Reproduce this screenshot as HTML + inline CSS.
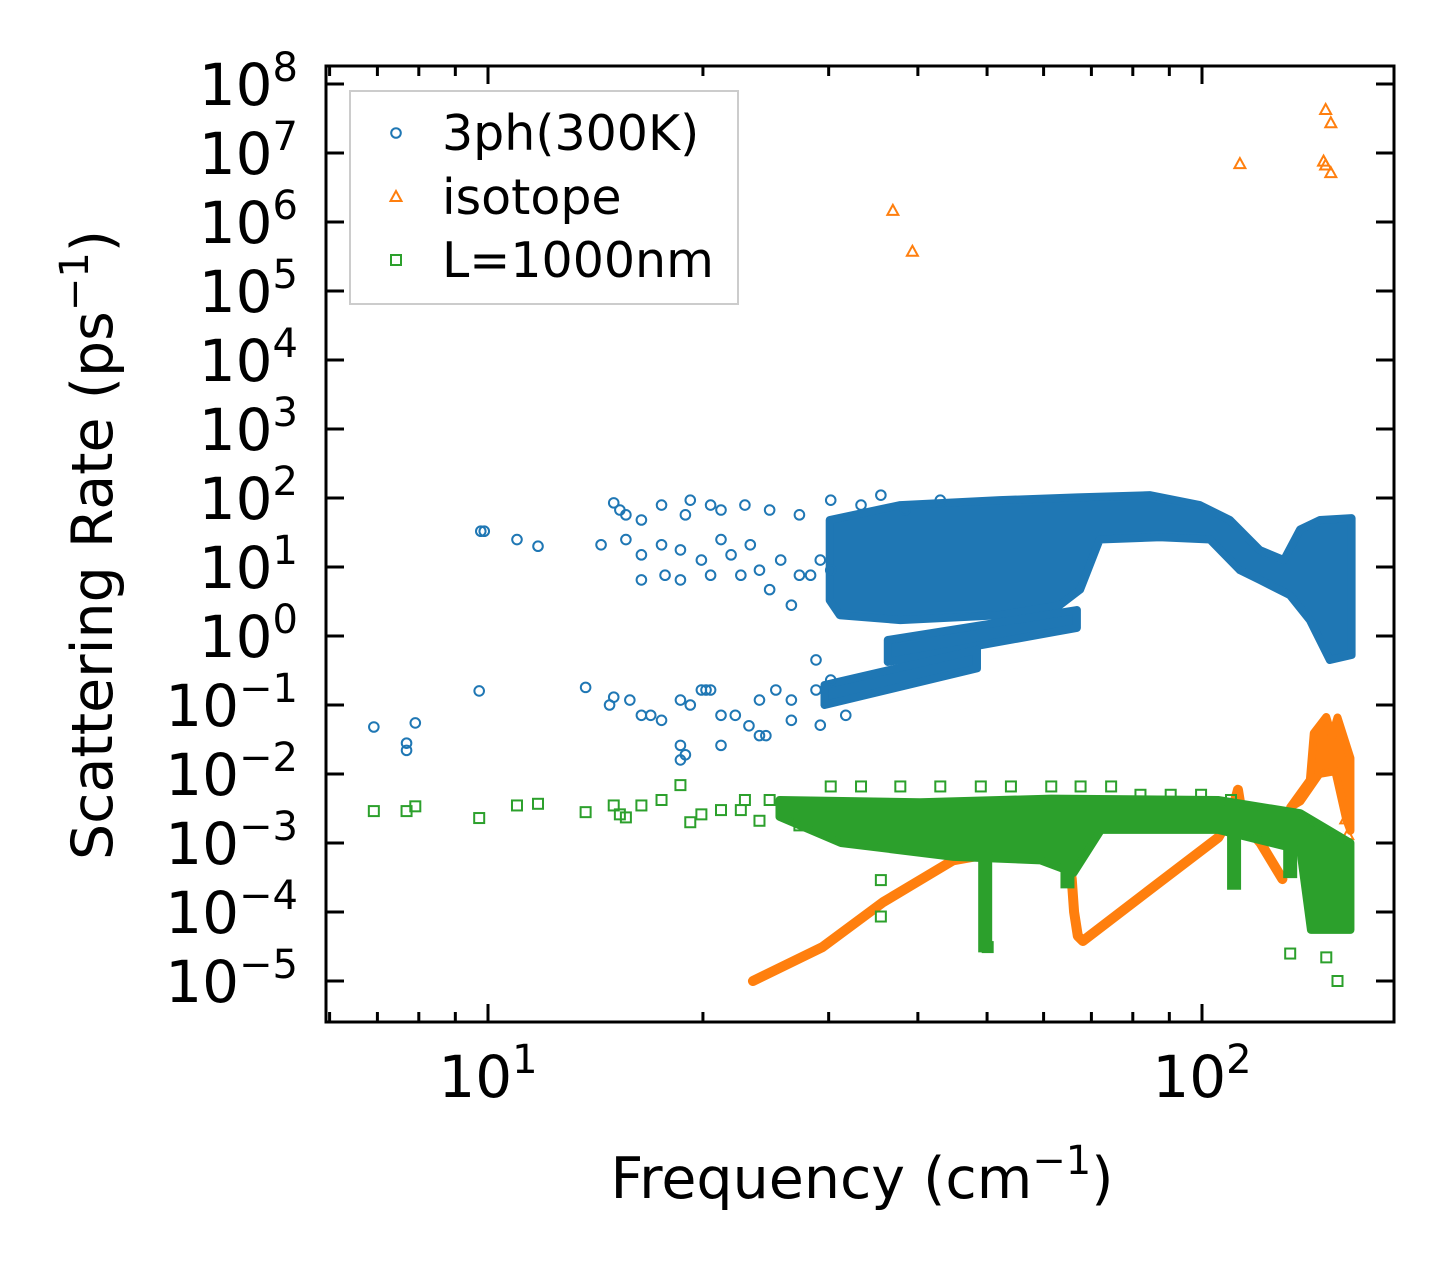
<!DOCTYPE html>
<html><head><meta charset="utf-8"><style>
html,body{margin:0;padding:0;background:#fff}
svg text{font-family:"DejaVu Sans","Liberation Sans",sans-serif;fill:#000}
</style></head><body>
<svg id="chart" width="1455" height="1272" viewBox="0 0 1455 1272" xmlns="http://www.w3.org/2000/svg" style="position:absolute;left:0;top:0">
<rect width="1455" height="1272" fill="#fff"/>
<g id="marks"></g>
<g id="axes"></g>
</svg>
<script>
// ---- data ----
const xTickValues = [10, 100];
const xTickExp = ["1", "2"];
const xMinorValues = [6,7,8,9,20,30,40,50,60,70,80,90];
const yTickExp = [-5,-4,-3,-2,-1,0,1,2,3,4,5,6,7,8];

// blue (3ph 300K) sparse points
const blueFreq = [6.92,7.69,7.69,7.91,9.72,9.77,9.88,10.98,11.75,13.7,15.0,15.0,
 15.3,15.6,16.4,17.5,18.9,19.2,20.5,21.2,22.9,24.8,27.3,30.2,33.3,35.5,38.4,43.0,
 14.4,15.6,16.4,17.5,18.6,19.9,21.2,21.9,23.3,24.0,25.7,27.3,29.2,16.4,17.7,18.6,20.5,22.6,24.8,26.6,28.3,30.2,
 14.8,15.8,16.9,18.6,19.2,20.5,21.2,22.2,24.0,25.3,26.6,28.8,30.2,16.4,17.5,18.6,19.9,21.2,24.0,26.6,28.8,31.7,29.2,18.9,20.2,23.2,24.5,18.6];
const blueRate = [0.048,0.028,0.022,0.055,0.16,33,33,25,20,0.18,85,0.13,
 67,57,48,79,57,93,79,67,79,67,57,93,79,110,67,93,
 21,25,15,21,17.7,12.6,25,15,21,9.0,12.6,7.6,12.6,6.5,7.6,6.5,7.6,7.6,4.7,2.8,7.6,9.0,
 0.10,0.118,0.071,0.118,0.10,0.165,0.071,0.071,0.118,0.165,0.118,0.165,0.23,0.071,0.06,0.026,0.165,0.026,0.036,0.06,0.45,0.071,0.051,0.019,0.165,0.05,0.036,0.016];
// blue dense envelopes
const blueAFreq = [30.1,37.8,52.1,66.8,84.6,99.3,109.4,120.5,130.2,137.2,146.3,162,162,151,141.6,132.8,120.5,113,102.6,87.3,71.9,67.5,63.2,52.1,37.8,31.1,30.1];
const blueARate = [48,79,93,102,110,79,48,17.6,12.6,35,48,51,0.53,0.45,1.7,3.9,6.5,9.0,25,27,25,4.7,2.8,2.0,1.7,2.0,3.3];
const blueB1Freq = [36.3,66.8,66.8,36.3];
const blueB1Rate = [0.875,2.38,1.31,0.42];
const blueB2Freq = [29.6,48.4,48.4,29.6];
const blueB2Rate = [0.195,0.63,0.34,0.10];

// orange (isotope)
const orangeSparseFreq = [36.9,39.3,113,149,151.5,148,149,151.5,159,160];
const orangeSparseRate = [1.45e6,3.7e5,6.9e6,4.2e7,2.7e7,7.5e6,6.6e6,5.1e6,2.2e-3,1.3e-3];
const orange1Freq = [23.5,29.4,35.8,44.8,50.5,57.1,64.8,65.7,66.2,67,68.1,84.5,105.4,109.8,112.3,114.2,120.8,129.6];
const orange1Rate = [1e-5,3.1e-5,1.4e-4,5.6e-4,7e-4,7.5e-4,7.5e-4,3e-4,1e-4,4.5e-5,3.8e-5,2.1e-4,1.2e-3,2.5e-3,5.9e-3,2e-3,1e-3,3e-4];
const orange2Freq = [132.9,141.6,143.4,149.3,152.1,154.8,161.4,161.4,159.2,153.7,146,137.3];
const orange2Rate = [3.3e-3,8.2e-3,0.039,0.067,0.035,0.066,0.017,1.5e-3,2.2e-3,0.011,0.01,4e-3];

// green (L=1000nm)
const greenFreq = [6.92,7.69,7.91,9.72,10.98,11.75,13.7,15.0,15.3,15.6,16.4,17.5,18.6,19.2,19.9,21.2,22.6,22.9,24.0,24.8,27.3,
 30.2,33.3,37.8,43.0,49.0,54.0,61.5,67.6,74.6,82.0,90.4,99.7,109.8,35.5,35.5,50.1,132.9,149.3,154.8];
const greenRate = [2.9e-3,2.9e-3,3.4e-3,2.3e-3,3.5e-3,3.7e-3,2.8e-3,3.5e-3,2.6e-3,2.35e-3,3.5e-3,4.2e-3,6.9e-3,2.0e-3,2.6e-3,3.0e-3,3.0e-3,4.2e-3,2.1e-3,4.2e-3,1.8e-3,
 6.6e-3,6.6e-3,6.6e-3,6.6e-3,6.6e-3,6.6e-3,6.6e-3,6.6e-3,6.6e-3,5.0e-3,5.0e-3,5.0e-3,4.2e-3,2.9e-4,8.6e-5,3.1e-5,2.5e-5,2.2e-5,1e-5];
const greenBandFreq = [25.6,40.3,61.5,105.3,137.3,161.4,161.4,142.1,137.3,105.3,72.2,66.1,59.4,44.9,31.2,25.6];
const greenBandRate = [4.2e-3,3.9e-3,4.4e-3,4.2e-3,2.7e-3,1.0e-3,5.5e-5,5.5e-5,7.9e-4,1.55e-3,1.55e-3,3.7e-4,5.6e-4,6.3e-4,1.0e-3,2.4e-3];
const greenDipFreq = [49.7,64.8,110.9,132.9];
const greenDipBottom = [2.6e-5,2.2e-4,2.1e-4,3.1e-4];
const greenDipTop = [1e-3,1.5e-3,2e-3,1.5e-3];

// ---- scales ----
const NS="http://www.w3.org/2000/svg";
function xs(f){return 488+714*(Math.log10(f)-1);}
function ys(r){return 84+69*(8-Math.log10(r));}
const C={b:"#1f77b4",o:"#ff7f0e",g:"#2ca02c"};
const marks=document.getElementById('marks');
const axes=document.getElementById('axes');
function mk(tag,attrs,parent){const e=document.createElementNS(NS,tag);for(const k in attrs)e.setAttribute(k,attrs[k]);(parent||marks).appendChild(e);return e;}
function circle(x,y,c){return mk('circle',{cx:x,cy:y,r:4.8,fill:'none',stroke:c,'stroke-width':2});}
function tri(x,y,c){return mk('polygon',{points:`${x},${y-6} ${x+5.5},${y+4} ${x-5.5},${y+4}`,fill:'none',stroke:c,'stroke-width':2});}
function sq(x,y,c){return mk('rect',{x:x-5,y:y-5,width:10,height:10,fill:'none',stroke:c,'stroke-width':2});}
function poly(fr,rt,c,w,closed){
  const pts=fr.map((f,i)=>xs(f)+','+ys(rt[i])).join(' ');
  return mk(closed?'polygon':'polyline',{points:pts,fill:closed?c:'none',stroke:c,'stroke-width':w,'stroke-linejoin':'round','stroke-linecap':'round'});
}

// blue
let e=poly(blueAFreq,blueARate,C.b,8,true);


e=poly(blueB1Freq,blueB1Rate,C.b,8,true);


e=poly(blueB2Freq,blueB2Rate,C.b,8,true);


blueFreq.forEach((f,i)=>{const c=circle(xs(f),ys(blueRate[i]),C.b);

});
// orange
e=poly(orange1Freq,orange1Rate,C.o,10,false);


e=poly(orange2Freq,orange2Rate,C.o,8,true);


orangeSparseFreq.forEach((f,i)=>{const t=tri(xs(f),ys(orangeSparseRate[i]),C.o);

});
// green
e=poly(greenBandFreq,greenBandRate,C.g,8,true);


greenDipFreq.forEach((f,i)=>{const l=mk('line',{x1:xs(f),x2:xs(f),y1:ys(greenDipTop[i]),y2:ys(greenDipBottom[i]),stroke:C.g,'stroke-width':14});

});
greenFreq.forEach((f,i)=>{const s=sq(xs(f),ys(greenRate[i]),C.g);

});

// ---- axes ----
const L=326,R=1394,T=66,B=1022;
const frame=mk('rect',{x:L,y:T,width:R-L,height:B-T,fill:'none',stroke:'#000','stroke-width':3},axes);


function tick(x1,y1,x2,y2,name){const t=mk('line',{x1,y1,x2,y2,stroke:'#000','stroke-width':3},axes);

}
xTickValues.forEach((v,i)=>{const x=xs(v);
 tick(x,B,x,B-18,'x-major-tick');tick(x,T,x,T+18,'x-major-tick-top');
 const t=mk('text',{x:x,y:1097,'font-size':58,'text-anchor':'middle'},axes);
 t.innerHTML=`10<tspan dy="-24" font-size="40">${xTickExp[i]}</tspan>`;
 
 });
xMinorValues.forEach(v=>{const x=xs(v);tick(x,B,x,B-10,'x-minor-tick');tick(x,T,x,T+10,'x-minor-tick-top');});
yTickExp.forEach(p=>{const y=ys(Math.pow(10,p));
 tick(L,y,L+18,y,'y-major-tick');tick(R,y,R-18,y,'y-major-tick-right');
 const t=mk('text',{x:298,y:y+21,'font-size':58,'text-anchor':'end'},axes);
 const s=p<0?'\u2212'+(-p):String(p);
 t.innerHTML=`10<tspan dy="-24" font-size="40">${s}</tspan>`;
 
 });
</script>
<svg style="position:absolute;left:0;top:0" width="1455" height="1272">
<text x="862" y="1198" font-size="57" text-anchor="middle" font-family="DejaVu Sans, Liberation Sans, sans-serif">Frequency (cm<tspan dy="-24" font-size="40">−1</tspan><tspan dy="24">)</tspan></text>
<text transform="translate(112,545) rotate(-90)" font-size="57" text-anchor="middle" font-family="DejaVu Sans, Liberation Sans, sans-serif">Scattering Rate (ps<tspan dy="-24" font-size="40">−1</tspan><tspan dy="24">)</tspan></text>
<g>
<rect x="350" y="91" width="388" height="213" fill="#fff" fill-opacity="0.8" stroke="#ccc" stroke-width="2"/>
<g><circle cx="396" cy="133" r="4.8" fill="none" stroke="#1f77b4" stroke-width="2"/><text x="442" y="150" font-size="49" font-family="DejaVu Sans, Liberation Sans, sans-serif">3ph(300K)</text></g>
<g><polygon points="396,191 401.5,201 390.5,201" fill="none" stroke="#ff7f0e" stroke-width="2"/><text x="442" y="214" font-size="49" font-family="DejaVu Sans, Liberation Sans, sans-serif">isotope</text></g>
<g><rect x="391" y="255" width="10" height="10" fill="none" stroke="#2ca02c" stroke-width="2"/><text x="442" y="277" font-size="49" font-family="DejaVu Sans, Liberation Sans, sans-serif">L=1000nm</text></g>
</g>
</svg>
</body></html>
